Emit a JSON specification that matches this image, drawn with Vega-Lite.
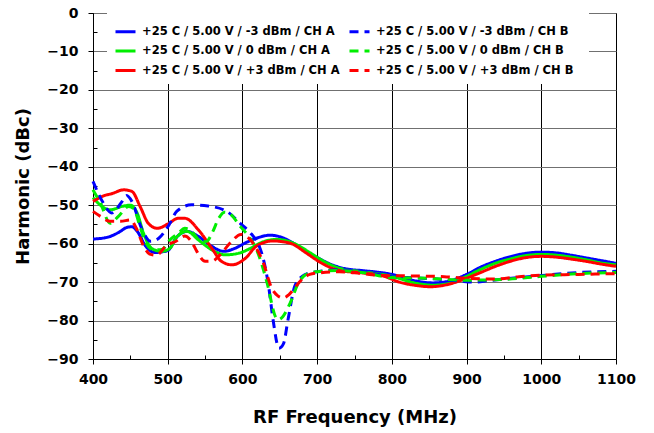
{
  "$schema": "https://vega.github.io/schema/vega-lite/v6.json",
  "width": 523,
  "height": 346,
  "autosize": "none",
  "padding": {"left": 93, "top": 13, "right": 38, "bottom": 74},
  "background": "white",
  "config": {
    "view": {"stroke": "#000000", "strokeWidth": 1},
    "font": "DejaVu Sans"
  },
  "datasets": {
    "series": [
      {"s": "A1", "name": "+25 C  / 5.00 V  / -3 dBm / CH A"},
      {"s": "B1", "name": "+25 C  / 5.00 V  / -3 dBm / CH B"},
      {"s": "A2", "name": "+25 C  / 5.00 V  / 0 dBm / CH A"},
      {"s": "B2", "name": "+25 C  / 5.00 V  / 0 dBm / CH B"},
      {"s": "A3", "name": "+25 C  / 5.00 V  / +3 dBm / CH A"},
      {"s": "B3", "name": "+25 C  / 5.00 V  / +3 dBm / CH B"}
    ]
  },
  "data": {
    "values": [
      {"s":"A1","f":400,"h":-58.8},{"s":"A1","f":420,"h":-58.3},{"s":"A1","f":435,"h":-57},{"s":"A1","f":445,"h":-55.8},{"s":"A1","f":452,"h":-55.6},{"s":"A1","f":460,"h":-57},{"s":"A1","f":470,"h":-60.5},{"s":"A1","f":483,"h":-62.3},{"s":"A1","f":500,"h":-61.8},{"s":"A1","f":512,"h":-58.3},{"s":"A1","f":526,"h":-56.8},{"s":"A1","f":541,"h":-58.1},{"s":"A1","f":559,"h":-60.7},{"s":"A1","f":575,"h":-62},{"s":"A1","f":590,"h":-61.2},{"s":"A1","f":604,"h":-59.8},{"s":"A1","f":620,"h":-58.5},{"s":"A1","f":637,"h":-57.8},{"s":"A1","f":650,"h":-58.2},{"s":"A1","f":665,"h":-59.5},{"s":"A1","f":685,"h":-62},{"s":"A1","f":702,"h":-63.8},{"s":"A1","f":720,"h":-65.5},{"s":"A1","f":740,"h":-66.6},{"s":"A1","f":760,"h":-67},{"s":"A1","f":780,"h":-67.4},{"s":"A1","f":800,"h":-68},{"s":"A1","f":815,"h":-68.8},{"s":"A1","f":835,"h":-69.8},{"s":"A1","f":855,"h":-70.2},{"s":"A1","f":875,"h":-69.8},{"s":"A1","f":900,"h":-68},{"s":"A1","f":920,"h":-66},{"s":"A1","f":940,"h":-64.5},{"s":"A1","f":960,"h":-63.3},{"s":"A1","f":980,"h":-62.5},{"s":"A1","f":1000,"h":-62.2},{"s":"A1","f":1020,"h":-62.4},{"s":"A1","f":1040,"h":-63},{"s":"A1","f":1060,"h":-63.7},{"s":"A1","f":1080,"h":-64.4},{"s":"A1","f":1100,"h":-65.1},

      {"s":"A2","f":400,"h":-48},{"s":"A2","f":410,"h":-50},{"s":"A2","f":423,"h":-51.2},{"s":"A2","f":439,"h":-50.3},{"s":"A2","f":450,"h":-50},{"s":"A2","f":459,"h":-52},{"s":"A2","f":468,"h":-57.5},{"s":"A2","f":479,"h":-61.3},{"s":"A2","f":492,"h":-62},{"s":"A2","f":503,"h":-61.2},{"s":"A2","f":512,"h":-58.3},{"s":"A2","f":526,"h":-56.8},{"s":"A2","f":541,"h":-59},{"s":"A2","f":559,"h":-61.6},{"s":"A2","f":577,"h":-62.9},{"s":"A2","f":595,"h":-62.5},{"s":"A2","f":610,"h":-61.3},{"s":"A2","f":628,"h":-59.5},{"s":"A2","f":646,"h":-58.9},{"s":"A2","f":660,"h":-59.3},{"s":"A2","f":673,"h":-60.3},{"s":"A2","f":690,"h":-62.3},{"s":"A2","f":708,"h":-64.5},{"s":"A2","f":730,"h":-66.4},{"s":"A2","f":760,"h":-67.3},{"s":"A2","f":800,"h":-68.5},{"s":"A2","f":830,"h":-70.2},{"s":"A2","f":855,"h":-70.8},{"s":"A2","f":880,"h":-70.2},{"s":"A2","f":900,"h":-68.5},{"s":"A2","f":920,"h":-66.6},{"s":"A2","f":940,"h":-65},{"s":"A2","f":960,"h":-63.9},{"s":"A2","f":980,"h":-63.1},{"s":"A2","f":1000,"h":-62.8},{"s":"A2","f":1020,"h":-63},{"s":"A2","f":1040,"h":-63.5},{"s":"A2","f":1060,"h":-64.2},{"s":"A2","f":1080,"h":-65},{"s":"A2","f":1100,"h":-65.5},

      {"s":"A3","f":400,"h":-49},{"s":"A3","f":415,"h":-47.5},{"s":"A3","f":425,"h":-47},{"s":"A3","f":441,"h":-46},{"s":"A3","f":452,"h":-46.4},{"s":"A3","f":463,"h":-50.3},{"s":"A3","f":474,"h":-54.7},{"s":"A3","f":486,"h":-56},{"s":"A3","f":501,"h":-54.8},{"s":"A3","f":514,"h":-53.4},{"s":"A3","f":523,"h":-53.4},{"s":"A3","f":541,"h":-56.4},{"s":"A3","f":559,"h":-61.2},{"s":"A3","f":572,"h":-64.6},{"s":"A3","f":586,"h":-65.5},{"s":"A3","f":604,"h":-63.8},{"s":"A3","f":619,"h":-60.6},{"s":"A3","f":641,"h":-59.3},{"s":"A3","f":664,"h":-59.9},{"s":"A3","f":686,"h":-62.5},{"s":"A3","f":702,"h":-64.6},{"s":"A3","f":730,"h":-67},{"s":"A3","f":760,"h":-67.6},{"s":"A3","f":790,"h":-68.5},{"s":"A3","f":810,"h":-70},{"s":"A3","f":830,"h":-70.8},{"s":"A3","f":852,"h":-71.2},{"s":"A3","f":875,"h":-70.6},{"s":"A3","f":900,"h":-69},{"s":"A3","f":920,"h":-67.4},{"s":"A3","f":940,"h":-65.8},{"s":"A3","f":960,"h":-64.5},{"s":"A3","f":980,"h":-63.6},{"s":"A3","f":1000,"h":-63.3},{"s":"A3","f":1020,"h":-63.5},{"s":"A3","f":1040,"h":-64},{"s":"A3","f":1060,"h":-64.6},{"s":"A3","f":1080,"h":-65.3},{"s":"A3","f":1100,"h":-65.9},

      {"s":"B1","f":400,"h":-43.8},{"s":"B1","f":414,"h":-49.5},{"s":"B1","f":425,"h":-52},{"s":"B1","f":439,"h":-49},{"s":"B1","f":445,"h":-47.5},{"s":"B1","f":452,"h":-49},{"s":"B1","f":465,"h":-56},{"s":"B1","f":477,"h":-59.4},{"s":"B1","f":488,"h":-58.6},{"s":"B1","f":503,"h":-54.7},{"s":"B1","f":512,"h":-51.6},{"s":"B1","f":532,"h":-49.9},{"s":"B1","f":554,"h":-50.2},{"s":"B1","f":579,"h":-51.6},{"s":"B1","f":597,"h":-54.7},{"s":"B1","f":612,"h":-57.5},{"s":"B1","f":621,"h":-60},{"s":"B1","f":628,"h":-64},{"s":"B1","f":635,"h":-71},{"s":"B1","f":641,"h":-79.8},{"s":"B1","f":649,"h":-87.2},{"s":"B1","f":655,"h":-86},{"s":"B1","f":661,"h":-79.8},{"s":"B1","f":670,"h":-71.1},{"s":"B1","f":680,"h":-68.5},{"s":"B1","f":690,"h":-67.6},{"s":"B1","f":700,"h":-67.3},{"s":"B1","f":730,"h":-66.8},{"s":"B1","f":760,"h":-67.2},{"s":"B1","f":790,"h":-68.3},{"s":"B1","f":800,"h":-68.6},{"s":"B1","f":830,"h":-68.9},{"s":"B1","f":860,"h":-69.2},{"s":"B1","f":890,"h":-69.7},{"s":"B1","f":910,"h":-70},{"s":"B1","f":930,"h":-69.6},{"s":"B1","f":960,"h":-69},{"s":"B1","f":1000,"h":-68.3},{"s":"B1","f":1050,"h":-67.5},{"s":"B1","f":1100,"h":-67.2},

      {"s":"B2","f":400,"h":-46},{"s":"B2","f":410,"h":-49.5},{"s":"B2","f":423,"h":-54.7},{"s":"B2","f":434,"h":-52.9},{"s":"B2","f":448,"h":-50.3},{"s":"B2","f":455,"h":-51},{"s":"B2","f":462,"h":-55},{"s":"B2","f":470,"h":-59.4},{"s":"B2","f":481,"h":-61.6},{"s":"B2","f":492,"h":-61.5},{"s":"B2","f":503,"h":-59},{"s":"B2","f":514,"h":-57.3},{"s":"B2","f":523,"h":-56},{"s":"B2","f":533,"h":-57},{"s":"B2","f":545,"h":-59.5},{"s":"B2","f":552,"h":-59.4},{"s":"B2","f":560,"h":-57},{"s":"B2","f":568,"h":-53.5},{"s":"B2","f":576,"h":-51.8},{"s":"B2","f":585,"h":-52.5},{"s":"B2","f":597,"h":-55.5},{"s":"B2","f":608,"h":-58},{"s":"B2","f":619,"h":-61.6},{"s":"B2","f":633,"h":-70.2},{"s":"B2","f":644,"h":-78.9},{"s":"B2","f":648,"h":-79.8},{"s":"B2","f":654,"h":-79},{"s":"B2","f":664,"h":-75.4},{"s":"B2","f":675,"h":-70.2},{"s":"B2","f":690,"h":-67.6},{"s":"B2","f":700,"h":-67.3},{"s":"B2","f":730,"h":-67},{"s":"B2","f":760,"h":-67.5},{"s":"B2","f":800,"h":-68.8},{"s":"B2","f":850,"h":-69},{"s":"B2","f":900,"h":-69.5},{"s":"B2","f":950,"h":-69.3},{"s":"B2","f":1000,"h":-68.5},{"s":"B2","f":1050,"h":-67.8},{"s":"B2","f":1100,"h":-67.5},

      {"s":"B3","f":400,"h":-51.6},{"s":"B3","f":410,"h":-52.9},{"s":"B3","f":423,"h":-54.2},{"s":"B3","f":437,"h":-54.2},{"s":"B3","f":450,"h":-53.8},{"s":"B3","f":458,"h":-56},{"s":"B3","f":468,"h":-60.7},{"s":"B3","f":476,"h":-62.7},{"s":"B3","f":485,"h":-63},{"s":"B3","f":499,"h":-60.3},{"s":"B3","f":510,"h":-59.5},{"s":"B3","f":523,"h":-58},{"s":"B3","f":532,"h":-59.5},{"s":"B3","f":539,"h":-62},{"s":"B3","f":550,"h":-64.6},{"s":"B3","f":560,"h":-64.5},{"s":"B3","f":570,"h":-62.9},{"s":"B3","f":585,"h":-59.5},{"s":"B3","f":598,"h":-57.6},{"s":"B3","f":608,"h":-58.5},{"s":"B3","f":617,"h":-60.7},{"s":"B3","f":628,"h":-65},{"s":"B3","f":639,"h":-71.5},{"s":"B3","f":647,"h":-73.5},{"s":"B3","f":655,"h":-74.1},{"s":"B3","f":662,"h":-73.3},{"s":"B3","f":668,"h":-72},{"s":"B3","f":679,"h":-69.4},{"s":"B3","f":690,"h":-68},{"s":"B3","f":702,"h":-67.6},{"s":"B3","f":730,"h":-67.3},{"s":"B3","f":760,"h":-67.8},{"s":"B3","f":790,"h":-68.3},{"s":"B3","f":830,"h":-68.4},{"s":"B3","f":870,"h":-68.6},{"s":"B3","f":900,"h":-69},{"s":"B3","f":940,"h":-69.2},{"s":"B3","f":970,"h":-68.6},{"s":"B3","f":1000,"h":-68.2},{"s":"B3","f":1050,"h":-68},{"s":"B3","f":1100,"h":-67.8}
    ]
  },
  "transform": [
    {"lookup": "s", "from": {"data": {"name": "series"}, "key": "s", "fields": ["name"]}}
  ],
  "layer": [
    {
      "mark": {"type": "point", "opacity": 0},
      "encoding": {
        "x": {"field": "f", "type": "quantitative", "scale": {"domain": [400, 1100], "nice": false, "zero": false},
          "axis": {"orient": "bottom", "values": [450, 550, 650, 750, 850, 950, 1050], "labels": false, "domain": false, "grid": false, "ticks": true, "tickSize": -4, "tickColor": "#000", "title": null}},
        "y": {"field": "h", "type": "quantitative", "scale": {"domain": [-90, 0], "nice": false, "zero": false},
          "axis": {"orient": "left", "values": [-85, -75, -65, -55, -45, -35, -25, -15, -5], "labels": false, "domain": false, "grid": false, "ticks": true, "tickSize": -4, "tickColor": "#000", "title": null}}
      }
    },
    {
      "mark": {"type": "line", "interpolate": "monotone", "strokeWidth": 3},
      "encoding": {
        "x": {"field": "f", "type": "quantitative", "scale": {"domain": [400, 1100], "nice": false, "zero": false},
          "axis": {"orient": "bottom", "values": [400, 500, 600, 700, 800, 900, 1000, 1100], "format": "d", "title": "RF Frequency (MHz)",
            "labelFlush": false, "labelOverlap": false, "labelBound": false,
            "grid": true, "gridColor": "#000", "gridOpacity": 1, "gridWidth": 1,
            "domain": true, "domainColor": "#000", "tickColor": "#000", "tickSize": 5,
            "labelFont": "DejaVu Sans", "labelFontWeight": "bold", "labelFontSize": 14, "labelColor": "#000", "labelPadding": 8,
            "titleFont": "DejaVu Sans", "titleFontWeight": "bold", "titleFontSize": 18, "titleColor": "#000", "titlePadding": 22}},
        "y": {"field": "h", "type": "quantitative", "scale": {"domain": [-90, 0], "nice": false, "zero": false},
          "axis": {"orient": "left", "values": [-90, -80, -70, -60, -50, -40, -30, -20, -10, 0], "title": "Harmonic (dBc)",
            "labelFlush": false, "labelOverlap": false, "labelBound": false,
            "grid": true, "gridColor": "#707070", "gridOpacity": 1, "gridWidth": 1,
            "domain": true, "domainColor": "#000", "tickColor": "#000", "tickSize": 5,
            "labelFont": "DejaVu Sans", "labelFontWeight": "bold", "labelFontSize": 14, "labelColor": "#000", "labelPadding": 10,
            "titleFont": "DejaVu Sans", "titleFontWeight": "bold", "titleFontSize": 18, "titleColor": "#000", "titlePadding": 14}},
        "detail": {"field": "name"},
        "color": {"field": "name", "type": "nominal",
          "scale": {"domain": ["+25 C  / 5.00 V  / -3 dBm / CH A", "+25 C  / 5.00 V  / 0 dBm / CH A", "+25 C  / 5.00 V  / +3 dBm / CH A", "+25 C  / 5.00 V  / -3 dBm / CH B", "+25 C  / 5.00 V  / 0 dBm / CH B", "+25 C  / 5.00 V  / +3 dBm / CH B"],
            "range": ["#0000ff", "#00ee00", "#ff0000", "#0000ff", "#00ee00", "#ff0000"]},
          "legend": {"orient": "none", "legendX": 14, "legendY": 0, "columns": 2, "title": null,
            "fillColor": "white", "padding": 7, "symbolType": "stroke", "symbolSize": 400, "symbolStrokeWidth": 3,
            "labelFont": "DejaVu Sans", "labelFontWeight": "bold", "labelFontSize": 11.5, "labelColor": "#000", "labelLimit": 400,
            "labelOffset": 5, "rowPadding": 1.5, "columnPadding": -15}},
        "strokeDash": {"field": "name", "type": "nominal",
          "scale": {"domain": ["+25 C  / 5.00 V  / -3 dBm / CH A", "+25 C  / 5.00 V  / 0 dBm / CH A", "+25 C  / 5.00 V  / +3 dBm / CH A", "+25 C  / 5.00 V  / -3 dBm / CH B", "+25 C  / 5.00 V  / 0 dBm / CH B", "+25 C  / 5.00 V  / +3 dBm / CH B"],
            "range": [[1, 0], [1, 0], [1, 0], [9, 6], [9, 6], [9, 6]]},
          "legend": {"orient": "none", "legendX": 14, "legendY": 0, "columns": 2, "title": null,
            "fillColor": "white", "padding": 7, "symbolType": "stroke", "symbolSize": 400, "symbolStrokeWidth": 3,
            "labelFont": "DejaVu Sans", "labelFontWeight": "bold", "labelFontSize": 11.5, "labelColor": "#000", "labelLimit": 400,
            "labelOffset": 5, "rowPadding": 1.5, "columnPadding": -15}}
      }
    }
  ],
  "resolve": {"axis": {"x": "independent", "y": "independent"}}
}
